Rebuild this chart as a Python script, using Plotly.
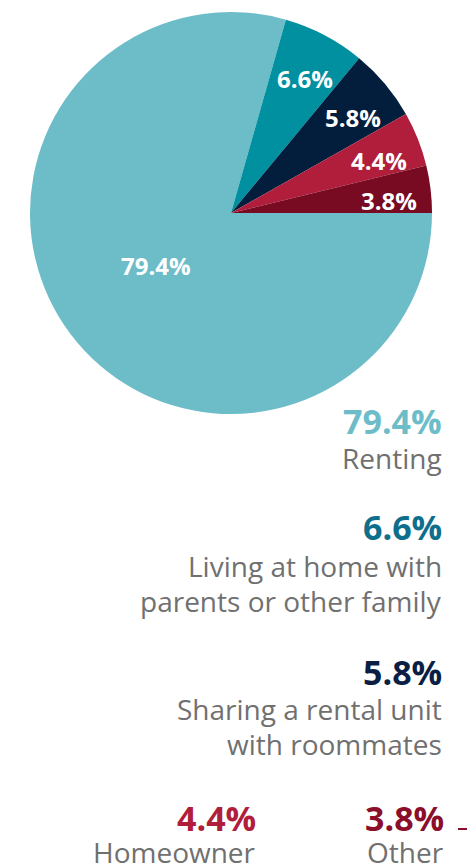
import math
import plotly.graph_objects as go

# Housing situation shares (percent), listed clockwise from 3 o'clock
labels = ["Renting", "Living at home with parents or other family",
          "Sharing a rental unit with roommates", "Homeowner", "Other"]
values = [79.4, 6.6, 5.8, 4.4, 3.8]
slice_colors = ["#6DBDC9", "#0090A0", "#031D3D", "#B01E3C", "#780A22"]

# Callout text: label lines and colour of each percentage headline
callout_lines = {
    "Renting": ["Renting"],
    "Living at home with parents or other family":
        ["Living at home with", "parents or other family"],
    "Sharing a rental unit with roommates":
        ["Sharing a rental unit", "with roommates"],
    "Homeowner": ["Homeowner"],
    "Other": ["Other"],
}
headline_colors = ["#6DBDC9", "#0F6E8C", "#0B1F44", "#B01E3C", "#8B0E2A"]

W, H = 467, 868
FONT = "Open Sans"
GRAY = "#707070"

# pie placement in pixels
PIE_LEFT, PIE_RIGHT, PIE_TOP, PIE_BOTTOM = 30, 432, 12, 414
CX = (PIE_LEFT + PIE_RIGHT) / 2
CY = (PIE_TOP + PIE_BOTTOM) / 2
R = (PIE_RIGHT - PIE_LEFT) / 2

fig = go.Figure(go.Pie(
    labels=labels,
    values=values,
    sort=False,
    direction="clockwise",
    rotation=90,
    marker=dict(colors=slice_colors, line=dict(width=0)),
    textinfo="none",
    domain=dict(x=[PIE_LEFT / W, PIE_RIGHT / W],
                y=[1 - PIE_BOTTOM / H, 1 - PIE_TOP / H]),
    hoverinfo="label+percent",
    showlegend=False,
))

annotations = []

# value labels inside the slices, placed along each slice's bisector
total = sum(values)
start = 0.0
for value in values:
    sweep = 360.0 * value / total
    mid = math.radians(start + sweep / 2)   # clockwise from 3 o'clock
    start += sweep
    big = value / total > 0.5
    r = R * (0.47 if big else 0.79)
    px = CX + r * math.cos(mid)
    py = CY + r * math.sin(mid) + (-4 if big else 6)
    annotations.append(dict(
        x=px / W, y=1 - py / H, xref="paper", yref="paper",
        xanchor="center", yanchor="middle", showarrow=False,
        text=f"{value:.1f}%",
        font=dict(family=FONT, size=24, color="white", weight="bold"),
    ))

# (right edge x, headline y, first label line y) in pixels
placements = {
    "Renting": (444, 421, 458),
    "Living at home with parents or other family": (444, 527, 566),
    "Sharing a rental unit with roommates": (444, 672, 709),
    "Homeowner": (258, 818, 852),
    "Other": (446, 818, 852),
}

for label, value, color in zip(labels, values, headline_colors):
    xr, yv, yl = placements[label]
    annotations.append(dict(
        x=xr / W, y=1 - yv / H, xref="paper", yref="paper",
        xanchor="right", yanchor="middle", showarrow=False,
        text=f"{value:.1f}%",
        font=dict(family=FONT, size=34, color=color, weight="bold"),
    ))
    for i, line in enumerate(callout_lines[label]):
        annotations.append(dict(
            x=xr / W, y=1 - (yl + 35 * i) / H, xref="paper", yref="paper",
            xanchor="right", yanchor="middle", showarrow=False,
            text=line,
            font=dict(family=FONT, size=28, color=GRAY),
        ))

fig.update_layout(
    width=W, height=H,
    margin=dict(l=0, r=0, t=0, b=0),
    paper_bgcolor="white",
    plot_bgcolor="white",
    annotations=annotations,
    shapes=[dict(type="line", xref="paper", yref="paper",
                 x0=458 / W, x1=1, y0=1 - 829 / H, y1=1 - 829 / H,
                 line=dict(color="#8B0E2A", width=2))],
)

fig.write_html("out.html")
